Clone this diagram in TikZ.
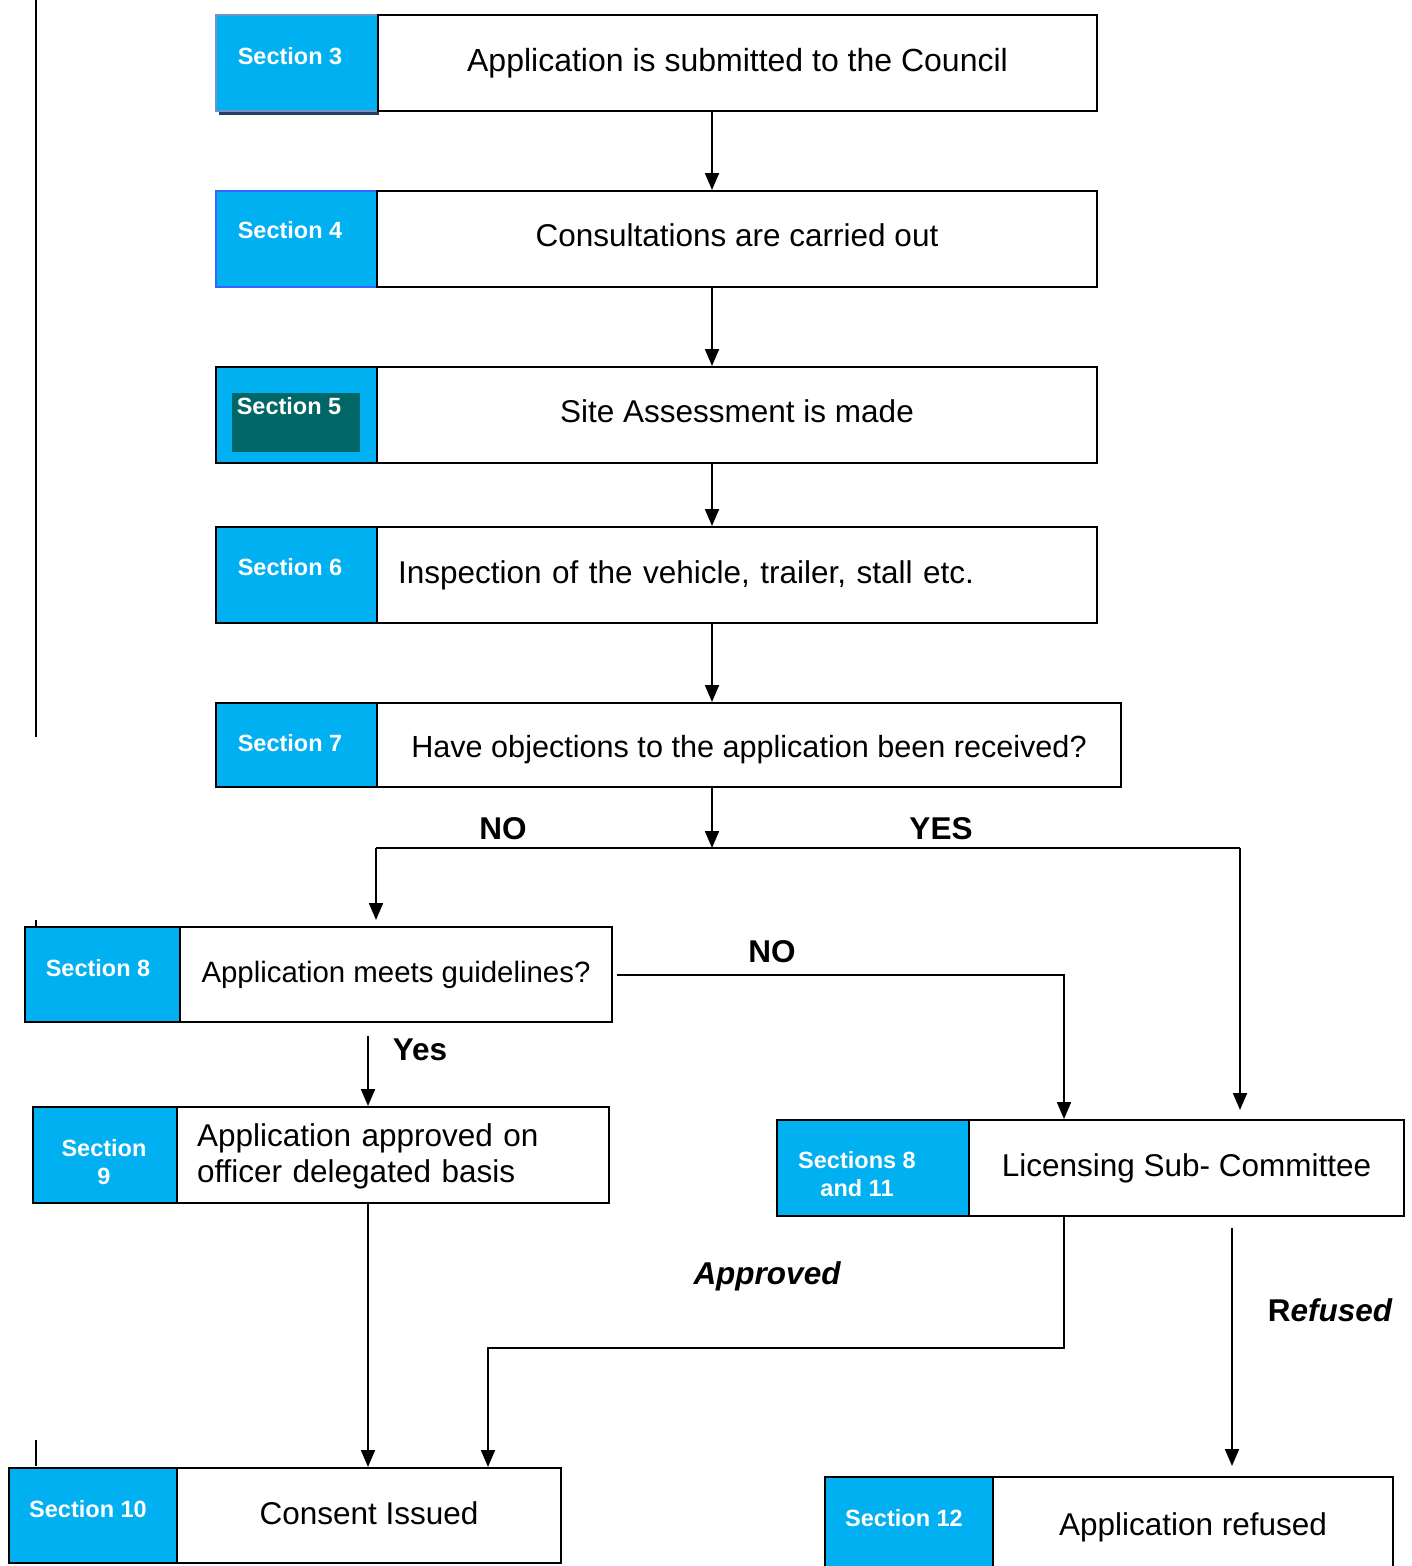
\documentclass[tikz,border=0pt]{standalone}
\usepackage{fontspec}
\setmainfont{Liberation Sans}
\usetikzlibrary{arrows.meta}
\definecolor{secblue}{HTML}{00B0F0}
\definecolor{secteal}{HTML}{006666}
\definecolor{secshadow}{HTML}{243F60}
\definecolor{secedge}{HTML}{7094C8}
\definecolor{secline}{HTML}{3366FF}
\tikzset{
	secbox/.style={draw=black, fill=secblue, line width=2pt, inner sep=0pt, anchor=north west},
	txtbox/.style={draw=black, fill=white, line width=2pt, inner sep=0pt, anchor=north west, font=\fontsize{31.5}{36}\selectfont},
	seclab/.style={text=white, inner sep=0pt, align=center, font=\bfseries\fontsize{23.5}{28}\selectfont},
	answer/.style={inner sep=0pt, font=\bfseries\fontsize{31.5}{36}\selectfont},
	arr/.style={-{Triangle[length=17pt,width=14pt]}, line width=2pt}
}
\begin{document}
\begin{tikzpicture}[x=1pt, y=-1pt]
	\useasboundingbox (0,0) rectangle (1411,1566);
	%stray rules on the left
	\draw[line width=2pt] (36,0) -- (36,737);
	\draw[line width=2pt] (36,920) -- (36,926);
	\draw[line width=2pt] (36,1440) -- (36,1466);

	%main column
	\node[fill=secshadow, inner sep=0pt, anchor=north west, minimum width=160pt, minimum height=96pt] (sec3shadow) at (219,19) {};
	\node[secbox, draw=secedge, minimum width=162pt, minimum height=96pt] (sec3) at (215,14) {};
	\node[txtbox, font=\fontsize{32}{36}\selectfont, minimum width=719pt, minimum height=96pt] (t3) at (377,14) {Application is submitted to the Council};
	\node[seclab] (lab3) at (290,56) {Section 3};

	\node[secbox, draw=secline, minimum width=161pt, minimum height=96pt] (sec4) at (215,190) {};
	\node[txtbox, text depth=8pt, minimum width=720pt, minimum height=96pt] (t4) at (376,190) {Consultations are carried out};
	\node[seclab] (lab4) at (290,230) {Section 4};

	\node[secbox, minimum width=161pt, minimum height=96pt] (sec5) at (215,366) {};
	\node[fill=secteal, inner sep=0pt, anchor=north west, minimum width=128pt, minimum height=59pt] (sec5in) at (232,393) {};
	\node[txtbox, text depth=8pt, minimum width=720pt, minimum height=96pt] (t5) at (376,366) {Site Assessment is made};
	\node[seclab] (lab5) at (289,406) {Section 5};

	\node[secbox, minimum width=161pt, minimum height=96pt] (sec6) at (215,526) {};
	\node[txtbox, text width=678pt, inner xsep=21pt, align=left, minimum height=96pt] (t6) at (376,526) {Inspection of the vehicle, trailer, stall etc.};
	\node[seclab] (lab6) at (290,567) {Section 6};

	\node[secbox, minimum width=161pt, minimum height=84pt] (sec7) at (215,702) {};
	\node[txtbox, font=\fontsize{30.6}{36}\selectfont, text height=32pt, minimum width=744pt, minimum height=84pt] (t7) at (376,702) {Have objections to the application been received?};
	\node[seclab] (lab7) at (290,743) {Section 7};

	%lower boxes
	\node[secbox, minimum width=155pt, minimum height=95pt] (sec8) at (24,926) {};
	\node[txtbox, font=\fontsize{29.4}{36}\selectfont, minimum width=432pt, minimum height=95pt] (t8) at (179,926) {Application meets guidelines?};
	\node[seclab] (lab8) at (98,968) {Section 8};

	\node[secbox, minimum width=144pt, minimum height=96pt] (sec9) at (32,1106) {};
	\node[txtbox, text width=392pt, inner xsep=20pt, align=left, minimum height=96pt, text height=26pt] (t9) at (176,1106) {Application approved on\\officer delegated basis};
	\node[seclab] (lab9) at (104,1162) {Section\\9};

	\node[secbox, minimum width=192pt, minimum height=96pt] (secsc) at (776,1119) {};
	\node[txtbox, minimum width=435pt, minimum height=96pt] (tsc) at (968,1119) {Licensing Sub- Committee};
	\node[seclab] (labsc) at (857,1174) {Sections 8\\and 11};

	\node[secbox, minimum width=168pt, minimum height=95pt] (sec10) at (8,1467) {};
	\node[txtbox, text depth=4pt, minimum width=384pt, minimum height=95pt] (t10) at (176,1467) {Consent Issued};
	\node[seclab] (lab10) at (88,1509) {Section 10};

	\node[secbox, minimum width=168pt, minimum height=100pt] (sec12) at (824,1476) {};
	\node[txtbox, minimum width=400pt, minimum height=100pt] (t12) at (992,1476) {Application refused};
	\node[seclab] (lab12) at (904,1518) {Section 12};

	%answers
	\node[answer] (no1) at (503,829) {NO};
	\node[answer] (yes1) at (941,829) {YES};
	\node[answer] (no2) at (772,952) {NO};
	\node[answer] (yes2) at (420,1050) {Yes};
	\node[answer] (appr) at (767,1276) {\itshape Approved};
	\node[answer] (refu) at (1330,1310) {R\itshape efused};

	%connectors
	\coordinate (mainx) at (712,0);
	\draw[arr] (t3.south -| mainx) -- (t4.north -| mainx);
	\draw[arr] (t4.south -| mainx) -- (t5.north -| mainx);
	\draw[arr] (t5.south -| mainx) -- (t6.north -| mainx);
	\draw[arr] (t6.south -| mainx) -- (t7.north -| mainx);

	\coordinate (split) at (712,848);
	\coordinate (noleft) at (376,848);
	\coordinate (yesright) at (1240,848);
	\draw[arr] (t7.south -| split) -- (split);
	\draw[line width=2pt] (noleft) -- (yesright);
	\draw[arr] (noleft) -- ([yshift=6pt]t8.north -| noleft);
	\draw[arr] (yesright) -- ([yshift=9pt]tsc.north -| yesright);

	\coordinate (nox) at (1064,0);
	\draw[arr] ([xshift=4pt]t8.east) -| (tsc.north -| nox);

	\coordinate (yesx) at (368,0);
	\draw[arr] ([yshift=-13pt]t8.south -| yesx) -- (t9.north -| yesx);
	\draw[arr] (t9.south -| yesx) -- (t10.north -| yesx);

	\coordinate (aprturn) at (488,1348);
	\draw[arr] (tsc.south -| nox) |- (aprturn) -- (t10.north -| aprturn);

	\coordinate (refx) at (1232,0);
	\draw[arr] ([yshift=-11pt]tsc.south -| refx) -- ([yshift=10pt]t12.north -| refx);
\end{tikzpicture}
\end{document}
